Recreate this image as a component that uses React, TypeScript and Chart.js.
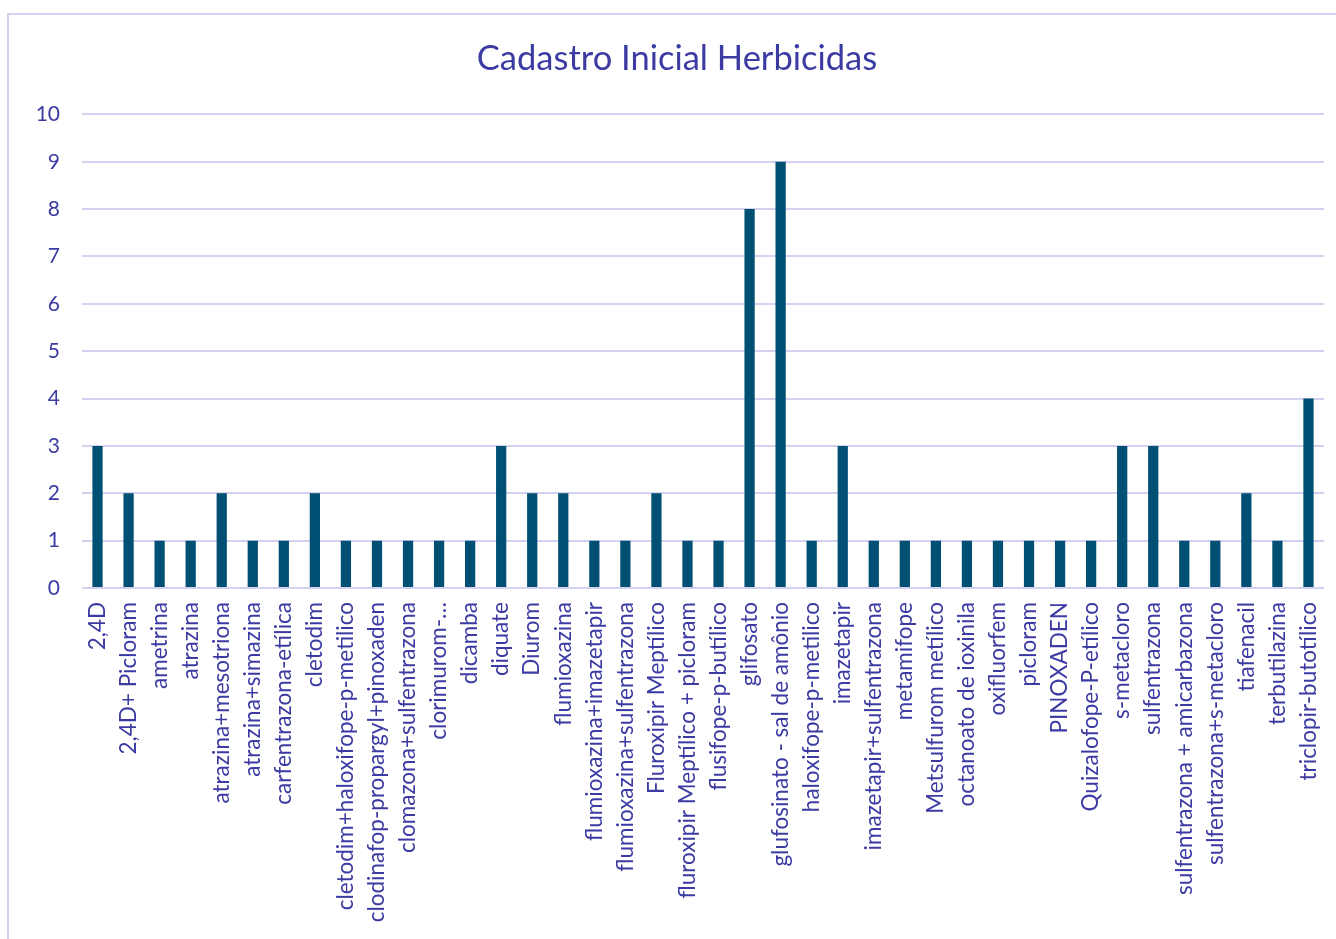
import React, { useEffect, useRef } from "react";
import { Chart, registerables } from "chart.js";

Chart.register(...registerables);

const titleText = "Cadastro Inicial Herbicidas";

const categories = [
  "2,4D",
  "2,4D+ Picloram",
  "ametrina",
  "atrazina",
  "atrazina+mesotriona",
  "atrazina+simazina",
  "carfentrazona-etílica",
  "cletodim",
  "cletodim+haloxifope-p-metilico",
  "clodinafop-propargyl+pinoxaden",
  "clomazona+sulfentrazona",
  "clorimurom-…",
  "dicamba",
  "diquate",
  "Diurom",
  "flumioxazina",
  "flumioxazina+imazetapir",
  "flumioxazina+sulfentrazona",
  "Fluroxipir Meptílico",
  "fluroxipir Meptílico + picloram",
  "flusifope-p-butílico",
  "glifosato",
  "glufosinato - sal de amônio",
  "haloxifope-p-metilico",
  "imazetapir",
  "imazetapir+sulfentrazona",
  "metamifope",
  "Metsulfurom metílico",
  "octanoato de ioxinila",
  "oxifluorfem",
  "picloram",
  "PINOXADEN",
  "Quizalofope-P-etílico",
  "s-metacloro",
  "sulfentrazona",
  "sulfentrazona + amicarbazona",
  "sulfentrazona+s-metacloro",
  "tiafenacil",
  "terbutilazina",
  "triclopir-butotílico",
];

const values = [
  3, 2, 1, 1, 2, 1, 1, 2, 1, 1,
  1, 1, 1, 3, 2, 2, 1, 1, 2, 1,
  1, 8, 9, 1, 3, 1, 1, 1, 1, 1,
  1, 1, 1, 3, 3, 1, 1, 2, 1, 4,
];

const yMin = 0;
const yMax = 10;
const yStep = 1;

const TEXT = "#3b3ba3";
const GRID = "#d2d2f0";
const BAR = "#014f72";
const FONT = "Lato, 'Open Sans', sans-serif";

export default function App() {
  const ref = useRef<HTMLCanvasElement | null>(null);

  useEffect(() => {
    if (!ref.current) return;
    const chart = new Chart(ref.current, {
      type: "bar",
      data: {
        labels: categories,
        datasets: [
          {
            data: values,
            backgroundColor: BAR,
            borderWidth: 0,
            barPercentage: 0.33,
            categoryPercentage: 1,
          },
        ],
      },
      options: {
        animation: false,
        responsive: false,
        layout: { padding: { top: 20, left: 30, right: 12, bottom: 0 } },
        plugins: {
          legend: { display: false },
          tooltip: { enabled: false },
          title: {
            display: true,
            text: titleText,
            color: TEXT,
            font: { family: FONT, size: 34.5, weight: "normal", lineHeight: 1.2 },
            padding: { top: 18, bottom: 35 },
          },
        },
        scales: {
          x: {
            grid: { display: false, drawTicks: false },
            border: { display: false },
            ticks: {
              color: TEXT,
              font: { family: FONT, size: 22.5 },
              minRotation: 90,
              maxRotation: 90,
              autoSkip: false,
              padding: 14,
            },
            afterFit: (s: any) => {
              s.height = 351;
              s.paddingLeft = 0;
              s.paddingRight = 0;
            },
          },
          y: {
            min: yMin,
            max: yMax,
            grid: { color: GRID, lineWidth: 2, drawTicks: false },
            border: { display: false },
            ticks: {
              stepSize: yStep,
              color: TEXT,
              font: { family: FONT, size: 21 },
              padding: 22,
            },
            afterFit: (s: any) => {
              s.width = 52;
              s.paddingTop = 0;
              s.paddingBottom = 0;
            },
          },
        },
      },
    });
    return () => chart.destroy();
  }, []);

  return (
    <div style={{ position: "absolute", left: 0, top: 0, width: 1336, height: 939, background: "#fff" }}>
      <canvas ref={ref} width={1336} height={939} style={{ position: "absolute", left: 0, top: 0 }} />
      <div
        style={{
          position: "absolute",
          left: 7,
          top: 13,
          width: 1340,
          height: 940,
          borderLeft: `2px solid ${GRID}`,
          borderTop: `2px solid ${GRID}`,
          pointerEvents: "none",
        }}
      />
    </div>
  );
}
